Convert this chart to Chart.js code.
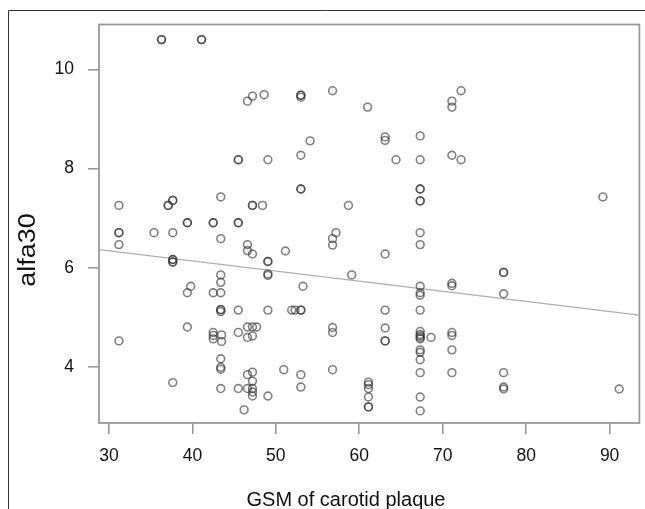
<!DOCTYPE html>
<html>
<head>
<meta charset="utf-8">
<script src="https://cdn.jsdelivr.net/npm/chart.js@4.4.1/dist/chart.umd.min.js"></script>
<style>
  html, body { margin: 0; padding: 0; background: #ffffff; }
  #c { display: block; }
</style>
</head>
<body>
<canvas id="c" width="645" height="509"></canvas>
<script>
// ---- Data ----
const gsm = [
  36.3, 36.3, 41.1, 41.1,
  46.6, 47.2, 48.6, 53.0, 53.0, 53.0, 56.8, 61.0, 71.1, 71.1, 72.2,
  54.1, 63.1, 63.1, 67.3, 53.0, 71.1, 72.2, 45.5, 45.5, 49.05, 64.4, 67.3,
  53.0, 53.0, 67.3, 67.3, 67.3, 67.3, 43.4, 37.65, 37.65, 37.1, 37.1, 31.2, 47.2, 47.2, 48.4, 58.7, 89.2,
  31.2, 31.2, 31.2, 35.4, 37.65, 39.4, 39.4, 42.5, 42.5, 45.5, 45.5, 43.4, 46.6, 46.6, 47.2, 51.15,
  56.8, 57.2, 56.8, 63.1, 67.3, 67.3,
  37.65, 37.65, 37.65, 37.65, 49.05, 49.05, 49.05, 49.05,
  43.4, 43.4, 43.4, 42.5, 39.8, 39.4, 53.25, 59.1, 67.3, 67.3, 67.3, 71.1, 71.1, 77.3, 77.3, 77.3,
  43.4, 43.4, 43.4, 45.5, 49.05, 51.9, 52.3, 53.0, 53.0, 63.1, 67.3,
  31.2, 39.4, 42.5, 42.5, 42.5, 43.5, 43.5, 45.5, 46.6, 46.6, 47.2, 47.2, 47.7,
  56.8, 56.8, 63.1, 63.1, 63.1, 67.3, 67.3, 67.3, 67.3, 67.3, 68.6, 67.3, 67.3, 67.3, 67.3,
  71.1, 71.1, 71.1, 71.1, 43.4, 43.4, 43.4,
  37.65, 43.4, 45.5, 46.6, 47.2, 47.2, 46.6, 47.2, 47.2, 47.2, 49.05, 46.2,
  50.95, 53.0, 53.0, 56.8, 61.1, 61.1, 61.1, 61.1, 61.1, 61.1, 67.3, 67.3,
  77.3, 77.3, 77.3, 91.15
];
const alfa30 = [
  10.6, 10.6, 10.6, 10.6,
  9.36, 9.46, 9.49, 9.48, 9.48, 9.44, 9.57, 9.24, 9.36, 9.24, 9.57,
  8.56, 8.64, 8.57, 8.66, 8.27, 8.27, 8.18, 8.18, 8.18, 8.18, 8.18, 8.18,
  7.59, 7.59, 7.59, 7.59, 7.35, 7.35, 7.43, 7.36, 7.36, 7.26, 7.26, 7.26, 7.26, 7.26, 7.26, 7.26, 7.43,
  6.71, 6.71, 6.47, 6.71, 6.71, 6.91, 6.91, 6.91, 6.91, 6.91, 6.91, 6.59, 6.47, 6.35, 6.28, 6.34,
  6.59, 6.71, 6.46, 6.28, 6.71, 6.47,
  6.17, 6.17, 6.12, 6.12, 6.13, 6.13, 5.88, 5.85,
  5.86, 5.71, 5.5, 5.5, 5.63, 5.5, 5.63, 5.86, 5.63, 5.5, 5.45, 5.69, 5.64, 5.91, 5.91, 5.48,
  5.16, 5.16, 5.12, 5.15, 5.15, 5.15, 5.15, 5.15, 5.15, 5.15, 5.15,
  4.53, 4.81, 4.70, 4.64, 4.57, 4.65, 4.52, 4.70, 4.81, 4.60, 4.81, 4.63, 4.81,
  4.80, 4.70, 4.79, 4.53, 4.53, 4.72, 4.66, 4.63, 4.60, 4.57, 4.60, 4.35, 4.30, 4.15, 3.89,
  4.70, 4.64, 4.35, 3.89, 4.17, 4.0, 3.96,
  3.69, 3.57, 3.57, 3.85, 3.90, 3.72, 3.57, 3.57, 3.50, 3.42, 3.42, 3.14,
  3.95, 3.85, 3.60, 3.95, 3.70, 3.65, 3.57, 3.40, 3.20, 3.20, 3.40, 3.12,
  3.89, 3.60, 3.56, 3.56
];
// fitted regression line, endpoints read at the plot edges
const fitX = [28.81, 93.57];
const fitY = [6.37, 5.05];

const xTicks = [30, 40, 50, 60, 70, 80, 90];
const yTicks = [4, 6, 8, 10];
const xTitle = 'GSM of carotid plaque';
const yTitle = 'alfa30';

// axis ranges
const xMin = 28.81, xMax = 93.57;
const yMin = 2.876, yMax = 10.904;

Chart.defaults.font.family = "'Liberation Sans', Arial, sans-serif";

const framePlugin = {
  id: 'frame',
  beforeDraw(chart) {
    const ctx = chart.ctx;
    ctx.save();
    ctx.fillStyle = '#ffffff';
    ctx.fillRect(0, 0, chart.width, chart.height);
    ctx.restore();
  },
  afterDraw(chart) {
    const ctx = chart.ctx;
    const a = chart.chartArea;
    ctx.save();
    // plot box
    ctx.strokeStyle = '#9a9a9a';
    ctx.lineWidth = 1.8;
    ctx.strokeRect(a.left, a.top, a.right - a.left, a.bottom - a.top);
    // outer figure frame (left + top)
    ctx.strokeStyle = '#333333';
    ctx.lineWidth = 1;
    ctx.beginPath();
    ctx.moveTo(8.5, chart.height);
    ctx.lineTo(8.5, 10.5);
    ctx.lineTo(chart.width, 10.5);
    ctx.stroke();
    // axis titles
    ctx.fillStyle = '#111111';
    ctx.font = "20px 'Liberation Sans', Arial, sans-serif";
    ctx.textAlign = 'center';
    ctx.textBaseline = 'alphabetic';
    ctx.fillText(xTitle, 346, 506);
    ctx.translate(35, 250);
    ctx.rotate(-Math.PI / 2);
    ctx.scale(1.17, 1);
    ctx.font = "23px 'Liberation Sans', Arial, sans-serif";
    ctx.fillText(yTitle, 0, 0);
    ctx.restore();
  }
};

const tickFont = { family: "'Liberation Sans', Arial, sans-serif", size: 17.5 };

new Chart(document.getElementById('c'), {
  type: 'scatter',
  data: {
    datasets: [
      {
        data: fitX.map((x, i) => ({ x: x, y: fitY[i] })),
        showLine: true,
        borderColor: 'rgba(140,140,140,0.7)',
        borderWidth: 1.2,
        pointRadius: 0,
        fill: false,
        order: 2
      },
      {
        data: gsm.map((x, i) => ({ x: x, y: alfa30[i] })),
        pointRadius: 3.9,
        pointBorderWidth: 1.6,
        pointBorderColor: 'rgba(50,50,50,0.62)',
        pointBackgroundColor: 'rgba(0,0,0,0)',
        borderColor: 'rgba(50,50,50,0.62)',
        backgroundColor: 'rgba(0,0,0,0)',
        order: 1
      }
    ]
  },
  options: {
    responsive: false,
    animation: false,
    devicePixelRatio: 1,
    layout: { padding: { top: 21, right: 2, left: 0, bottom: 0 } },
    plugins: { legend: { display: false }, tooltip: { enabled: false } },
    scales: {
      x: {
        type: 'linear',
        min: xMin,
        max: xMax,
        afterFit(s) { s.height = 86; },
        afterBuildTicks(s) { s.ticks = xTicks.map(v => ({ value: v })); },
        grid: { drawOnChartArea: false, drawTicks: true, tickLength: 11, color: '#9a9a9a', lineWidth: 1.6 },
        border: { display: false },
        ticks: { padding: 12, font: tickFont, color: '#111111', maxRotation: 0 }
      },
      y: {
        type: 'linear',
        min: yMin,
        max: yMax,
        afterFit(s) { s.width = 99; },
        afterBuildTicks(s) { s.ticks = yTicks.map(v => ({ value: v })); },
        grid: { drawOnChartArea: false, drawTicks: true, tickLength: 11, color: '#9a9a9a', lineWidth: 1.6 },
        border: { display: false },
        ticks: { padding: 14, font: tickFont, color: '#111111' }
      }
    }
  },
  plugins: [framePlugin]
});
</script>
</body>
</html>
